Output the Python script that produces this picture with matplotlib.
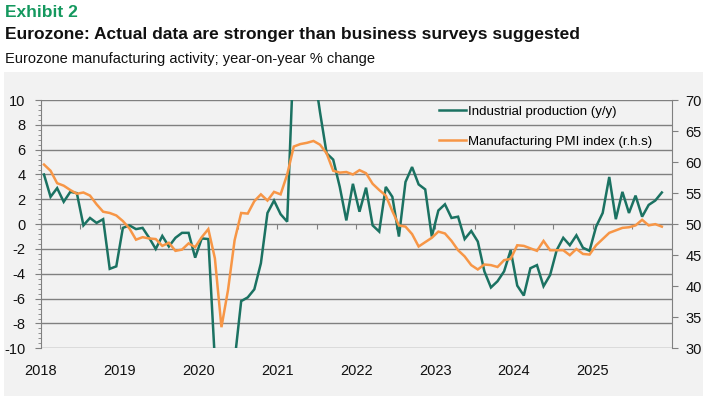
import numpy as np
import pandas as pd
import matplotlib
matplotlib.use("Agg")
import matplotlib.pyplot as plt
from matplotlib.ticker import MultipleLocator
from matplotlib.patches import Rectangle

plt.rcParams['font.family'] = ['Liberation Sans', 'DejaVu Sans']

# ---------------- data ----------------
start_month = "2018-01"
end_month = "2025-11"

industrial_production = [
    4.0, 2.2, 2.9, 1.8, 2.6, 2.5, -0.1, 0.5, 0.1, 0.4, -3.6, -3.4,          # 2018
    -0.3, -0.1, -0.4, -0.3, -1.1, -2.0, -0.95, -1.8, -1.1, -0.7, -0.7, -2.7,  # 2019
    -1.15, -1.2, -11.0, -28.0, -20.0, -11.0, -6.2, -5.9, -5.25, -3.15, 0.9, 1.9,  # 2020
    0.8, 0.2, 14.0, 39.0, 22.0, 12.6, 9.0, 5.7, 5.2, 3.0, 0.3, 3.25,       # 2021
    1.0, 2.94, -0.1, -0.6, 3.0, 2.2, -1.0, 3.4, 4.6, 3.2, 2.8, -1.0,        # 2022
    1.1, 1.6, 0.5, 0.6, -1.2, -0.55, -1.4, -3.8, -5.1, -4.6, -3.8, -2.1,    # 2023
    -4.95, -5.75, -3.55, -3.3, -5.0, -4.1, -2.1, -1.1, -1.7, -0.9, -1.9, -2.15,  # 2024
    -0.2, 0.9, 3.8, 0.4, 2.6, 0.9, 2.3, 0.6, 1.55, 1.9, 2.55,               # 2025
]

manufacturing_pmi = [
    59.6, 58.6, 56.6, 56.2, 55.5, 54.9, 55.1, 54.6, 53.2, 52.0, 51.8, 51.4,  # 2018
    50.5, 49.3, 47.5, 47.9, 47.7, 47.6, 46.5, 47.0, 45.7, 45.9, 46.9, 46.3,  # 2019
    47.9, 49.2, 44.5, 33.4, 39.4, 47.4, 51.8, 51.7, 53.7, 54.8, 53.8, 55.2,  # 2020
    54.8, 58.0, 62.5, 62.9, 63.1, 63.4, 62.8, 61.4, 58.6, 58.3, 58.4, 58.0,  # 2021
    58.7, 58.2, 56.5, 55.5, 54.6, 52.1, 49.8, 49.6, 48.4, 46.4, 47.1, 47.8,  # 2022
    48.8, 48.5, 47.3, 45.8, 44.8, 43.4, 42.7, 43.5, 43.4, 43.1, 44.2, 44.4,  # 2023
    46.6, 46.5, 46.1, 45.7, 47.3, 45.8, 45.8, 45.8, 45.0, 46.0, 45.2, 45.1,  # 2024
    46.6, 47.6, 48.6, 49.0, 49.4, 49.5, 49.8, 50.7, 49.8, 50.0, 49.6,        # 2025
]

year_ticks = [2018, 2019, 2020, 2021, 2022, 2023, 2024, 2025]
year_labels = [str(y) for y in year_ticks]
left_ticks = list(range(-10, 11, 2))
right_ticks = list(range(30, 71, 5))

series_names = ["Industrial production (y/y)", "Manufacturing PMI index (r.h.s)"]

# ---------------- styling ----------------
GREEN = "#1b7262"
ORANGE = "#f79646"
GRID = "#808080"
TEXT = "#111111"
BG = "#f2f2f2"

months = pd.period_range(start_month, end_month, freq="M")
xpos = np.asarray(months.year + (months.month - 0.5) / 12.0, dtype=float)

W, H = 708, 400
fig = plt.figure(figsize=(W / 100, H / 100), dpi=100)
fig.patch.set_facecolor("white")

# grey panel
fig.patches.append(Rectangle((4 / W, 4 / H), 699 / W, (396 - 72) / H,
                             transform=fig.transFigure, facecolor=BG,
                             edgecolor="none", zorder=-10))

# titles
fig.text(5 / W, 1 - 17.3 / H, "Exhibit 2", color="#14985e", fontsize=12.5,
         fontweight="bold", va="baseline", ha="left")
fig.text(5 / W, 1 - 39.5 / H,
         "Eurozone: Actual data are stronger than business surveys suggested",
         color=TEXT, fontsize=12.5, fontweight="bold", va="baseline", ha="left")
fig.text(5 / W, 1 - 63.3 / H,
         "Eurozone manufacturing activity; year-on-year % change",
         color=TEXT, fontsize=10.5, va="baseline", ha="left")

left, right, top, bottom = 40.7, 671.7, 100.0, 348.3
ax = fig.add_axes([left / W, 1 - bottom / H, (right - left) / W, (bottom - top) / H])
ax.set_facecolor(BG)
ax2 = ax.twinx()

l1, = ax.plot(xpos, industrial_production, color=GREEN, lw=1.8,
              solid_joinstyle="miter", label=series_names[0])
l2, = ax2.plot(xpos, manufacturing_pmi, color=ORANGE, lw=1.8,
               solid_joinstyle="miter", label=series_names[1])

ax.set_xlim(2018, 2026)
ax.set_ylim(-10, 10)
ax2.set_ylim(30, 70)

ax.set_yticks(left_ticks)
ax.set_yticklabels([str(t) for t in left_ticks])
ax.yaxis.set_minor_locator(MultipleLocator(0.4))
ax2.set_yticks(right_ticks)
ax2.set_yticklabels([str(t) for t in right_ticks])

ax.set_xticks(year_ticks)
ax.set_xticklabels(year_labels)

ax.grid(axis="y", which="major", color=GRID, lw=1.0)
ax.set_axisbelow(True)

for s in ["top", "bottom", "right"]:
    ax.spines[s].set_visible(False)
ax.spines["left"].set_color(GRID)
for s in ["top", "bottom", "left"]:
    ax2.spines[s].set_visible(False)
ax2.spines["right"].set_color(GRID)

ax.tick_params(axis="y", which="major", direction="out", length=4, color=GRID,
               labelsize=10.5, labelcolor=TEXT, pad=7)
ax.tick_params(axis="y", which="minor", direction="out", length=2.5, color=GRID)
ax.tick_params(axis="x", which="both", length=0, labelsize=10.5, labelcolor=TEXT, pad=11)
ax2.tick_params(axis="y", direction="out", length=4, color=GRID,
                labelsize=10.5, labelcolor=TEXT, pad=6)

# half-year tick marks on the zero line
sec = ax.secondary_xaxis(0.5)
sec.set_xticks(np.arange(2018, 2026.01, 0.5))
sec.xaxis.set_ticks_position("bottom")
sec.tick_params(axis="x", direction="out", length=3.5, color=GRID,
                labelbottom=False, labeltop=False)
for s in sec.spines.values():
    s.set_visible(False)

ax2.legend(handles=[l1, l2], loc="upper left",
           bbox_to_anchor=(436 / W, 1 - 103 / H), bbox_transform=fig.transFigure,
           frameon=False, fontsize=9.5, handlelength=2.1, handletextpad=0.15,
           labelspacing=1.35, borderaxespad=0, borderpad=0.2)

fig.savefig("out.png", dpi=100, facecolor="white")
